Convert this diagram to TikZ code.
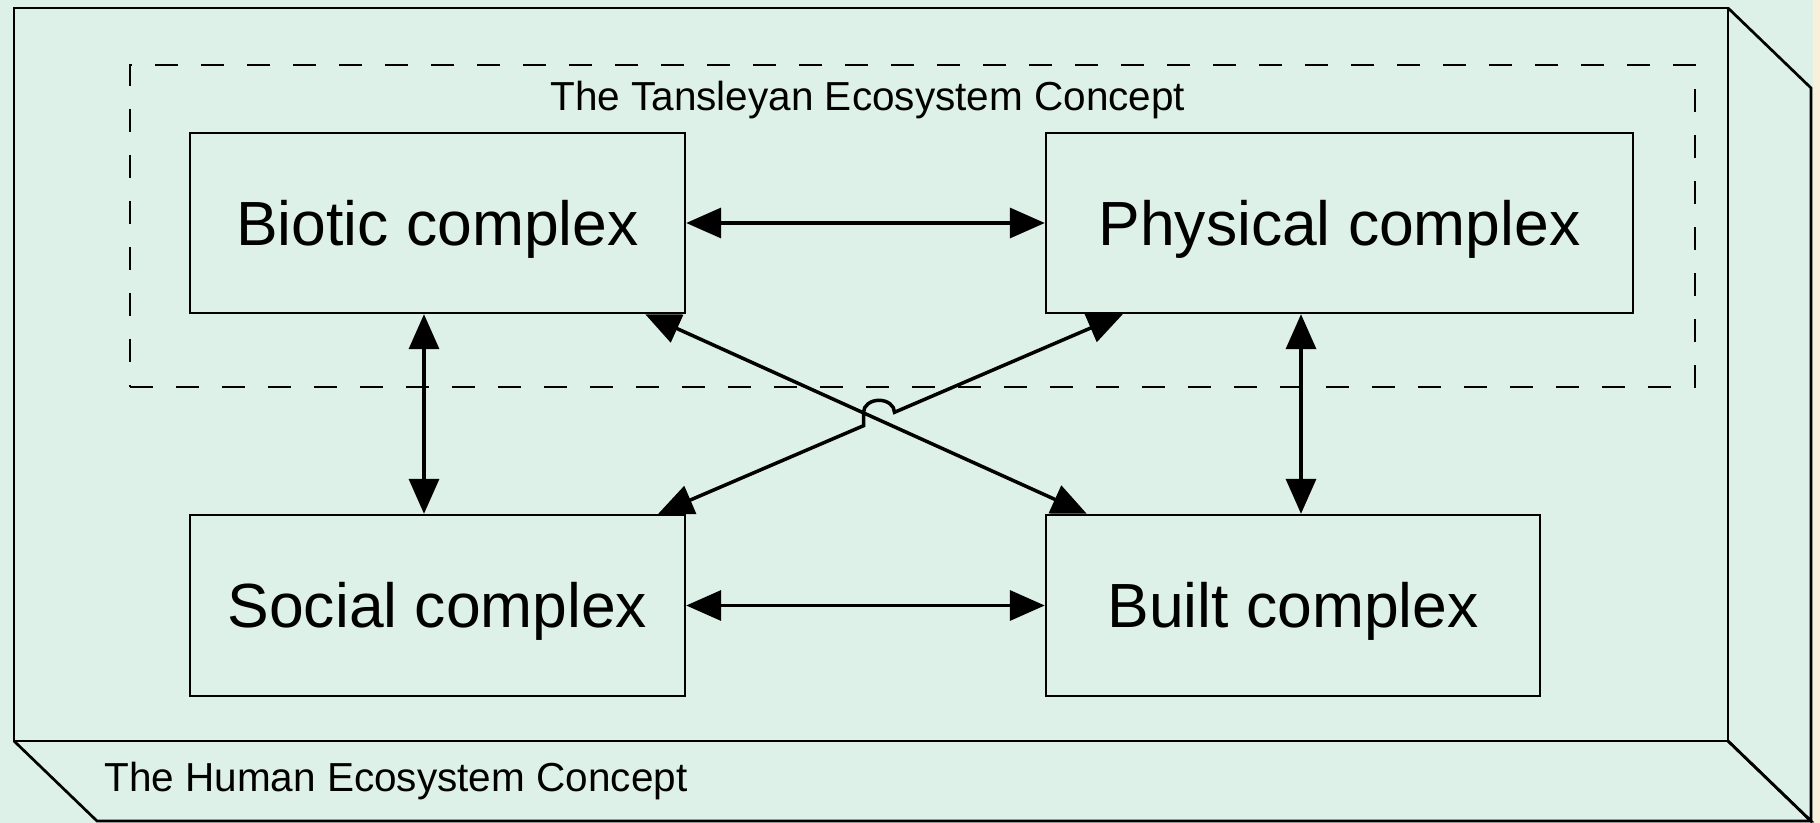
\documentclass[tikz,border=0pt]{standalone}
\usepackage{fontspec}
\setmainfont{Liberation Sans}
\usetikzlibrary{arrows.meta,calc}
\definecolor{bg}{RGB}{221,241,232}
\definecolor{strip}{RGB}{248,240,218}
\begin{document}
\begin{tikzpicture}[x=0.5pt,y=-0.5pt,
  box/.style={draw=black, line width=1.2pt, inner sep=0pt,
    font=\fontsize{31.2}{36}\selectfont, text height=22.3pt, text depth=0pt,
    minimum height=90pt},
  frame/.style={draw=black, line width=1.1pt, dash pattern=on 11.5pt off 11.5pt, inner sep=0pt},
  lbltext/.style={inner sep=0pt, font=\fontsize{20.25}{24}\selectfont},
  cubeline/.style={draw=black, line width=1.35pt, line join=miter},
  conn/.style={draw=black, line width=1.75pt, <->, >={Triangle[length=17.5pt,width=15pt]}}]
\useasboundingbox (0,0) rectangle (1820,823);
% background
\fill[bg] (0,0) rectangle (1813,823);
\fill[strip] (1813,0) rectangle (1820,823);
% 3D frame (human ecosystem)
\draw[cubeline] (14,8) rectangle (1728,741);
\draw[cubeline] (1728,8) -- (1811,88) -- (1811,821) -- (1728,741);
\draw[cubeline] (1728,741) -- (1811,821) -- (97,821) -- (14,741);
\node[lbltext, anchor=base west] (humanlbl) at (104,791) {The Human Ecosystem Concept};
% dashed frame (Tansleyan)
\node[frame, minimum width=782.5pt, minimum height=161pt] (tans) at (912.5,226) {};
\node[lbltext, anchor=base west] (tanslbl) at (550,111) {The Tansleyan Ecosystem Concept};
% boxes
\node[box, minimum width=247.5pt] (bio) at (437.5,223) {Biotic complex};
\node[box, minimum width=293.5pt] (phys) at (1339.5,223) {Physical complex};
\node[box, minimum width=247.5pt, minimum height=90.5pt] (soc) at (437.5,605.5) {Social complex};
\node[box, minimum width=247pt, minimum height=90.5pt] (built) at (1293,605.5) {Built complex};
% connectors
\coordinate (vl) at (424,0);
\coordinate (vr) at (1301,0);
\draw[conn] (bio.east) -- (phys.west);
\draw[conn] (soc.east) -- (built.west);
\draw[conn] (bio.south -| vl) -- (soc.north -| vl);
\draw[conn] (phys.south -| vr) -- (built.north -| vr);
\draw[conn] ($(bio.south east)+(-41,0)$) -- ($(built.north west)+(42,0)$);
\coordinate (j1) at (863.5,425.7);
\coordinate (j2) at (863.5,412.3);
\draw[conn] ($(soc.north east)+(-28,0)$) -- (j1) -- (j2)
  arc[start angle=180, end angle=360, x radius=15.5, y radius=12]
  -- ($(phys.south west)+(78,0)$);
\end{tikzpicture}
\end{document}
